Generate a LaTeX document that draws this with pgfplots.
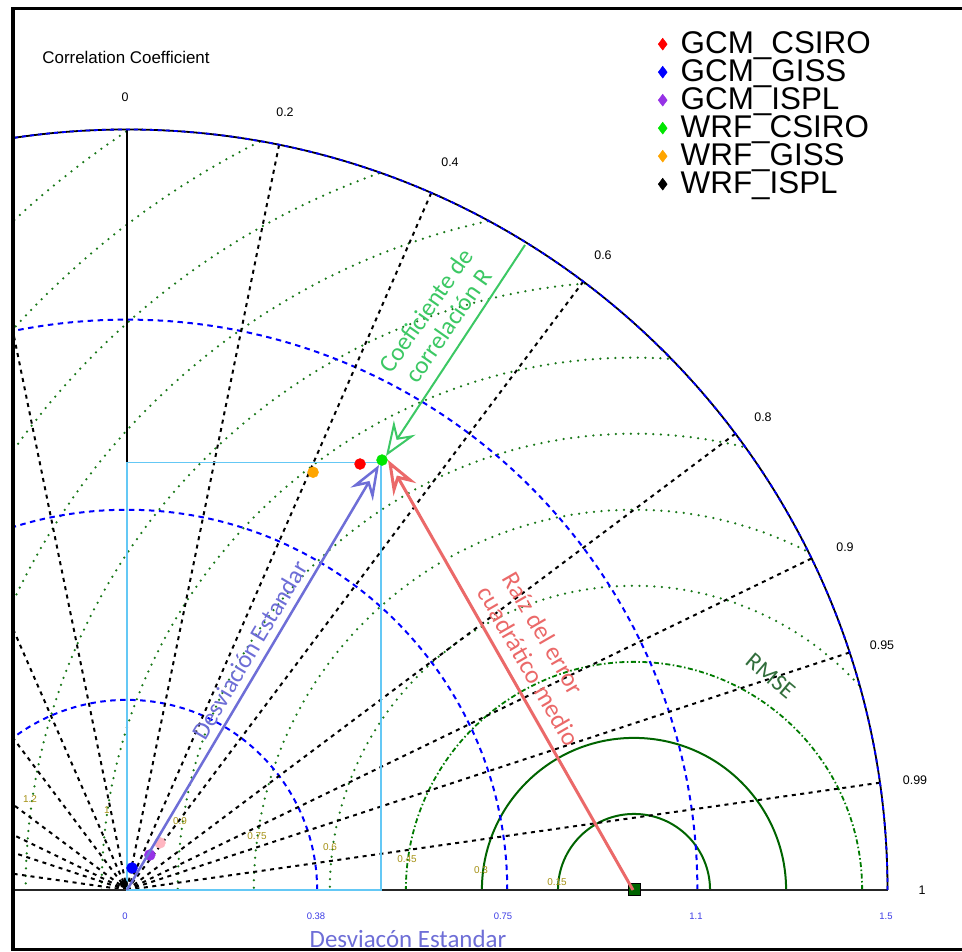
\documentclass[border=0pt]{standalone}
\usepackage{fontspec}
\setmainfont{Liberation Sans}
\newfontfamily\carl{Carlito}
\usepackage{pgfplots}
\pgfplotsset{compat=1.18}
\usetikzlibrary{arrows.meta}
\definecolor{dgreen}{RGB}{0,100,0}
\definecolor{dotgreen}{RGB}{25,120,25}
\definecolor{cyanline}{RGB}{100,200,245}
\definecolor{annogreen}{RGB}{60,200,100}
\definecolor{annored}{RGB}{235,105,105}
\definecolor{annoblue}{RGB}{110,110,215}
\definecolor{rmsegreen}{RGB}{50,110,60}
\definecolor{olivelab}{RGB}{165,145,20}
\definecolor{ticklab}{RGB}{60,60,230}
\definecolor{ptpurple}{RGB}{150,50,230}
\definecolor{ptgreen}{RGB}{0,230,0}
\definecolor{ptorange}{RGB}{255,165,0}
\definecolor{ptpink}{RGB}{255,182,193}
\begin{document}
\begin{tikzpicture}
\fill[white] (0,0) rectangle (962bp,951bp);
% ---------- grid (pixel frame, then data-unit scope) ----------
\begin{scope}[x=1bp,y=-1bp,yshift=951bp]
 \clip (14.5,10.5) rectangle (962,948.5);
 \begin{scope}[shift={(127bp,-890bp)},x=507bp,y=507bp]
  \begin{scope}
   \clip (1.5,0) arc[start angle=0,end angle=180,radius=1.5] -- cycle;
   \foreach \r in {0.6,0.75,0.9,1.05,1.2,1.35,1.5,1.65,1.8,1.95,2.1}
     \draw[dotgreen, line width=2.5bp, line cap=round, dash pattern=on 0bp off 7.5bp] (1,0) circle[radius=\r];
   \draw[dgreen!85!green, line width=1.8bp, dash pattern=on 5bp off 2.5bp on 1.5bp off 2.5bp] (1,0) circle[radius=0.45];
   \draw[dgreen, line width=2bp] (1,0) circle[radius=0.3];
   \draw[dgreen, line width=2bp] (1,0) circle[radius=0.15];
  \end{scope}
  \foreach \s in {0.375,0.75,1.125}
    \draw[blue, line width=2bp, dash pattern=on 5.5bp off 4.5bp] (\s,0) arc[start angle=0,end angle=180,radius=\s];
  \foreach \c in {0.2,0.4,0.6,0.8,0.9,0.95,0.99,-0.2,-0.4,-0.6,-0.8,-0.9,-0.95,-0.99}
    \draw[black, line width=2bp, dash pattern=on 4bp off 4.5bp] (0,0) -- ({acos(\c)}:1.5);
  \draw[black, line width=2bp] (0,0) -- (0,1.5);
  \draw[black!85, line width=2bp] (-0.3,0) -- (1.5,0);
  \draw[cyanline, line width=1.6bp] (0,0) rectangle (0.501,0.843);
  \draw[black, line width=1.8bp] (1.5,0) arc[start angle=0,end angle=180,radius=1.5];
  \draw[blue, line width=1.8bp, dash pattern=on 4bp off 4bp] (1.5,0) arc[start angle=0,end angle=180,radius=1.5];
 \end{scope}
\end{scope}
% ---------- data ----------
\begin{axis}[at={(0,0)}, anchor=south west, scale only axis,
  width=962bp, height=951bp,
  xmin=-0.250493, xmax=1.646943, ymin=-0.120316, ymax=1.755424,
  hide axis, clip=false,
  legend style={at={(axis cs:1.0474,1.6963)}, anchor=north west, draw=none, fill=none,
     font=\fontsize{31.5}{31.5}\selectfont, inner xsep=0pt, inner ysep=0pt,
     nodes={inner sep=0pt, text height=23bp, text depth=5bp},
     column sep=13.5bp, cells={anchor=west}},
  legend image post style={mark=diamond*, mark size=6bp}]
\addplot[only marks, mark=*, mark size=5.5bp, color=ptpink, forget plot] coordinates {(0.065,0.093)};
\addplot[only marks, mark=*, mark size=5.5bp, color=red] coordinates {(0.4596,0.8402)};
\addlegendentry{GCM\_CSIRO}
\addplot[only marks, mark=*, mark size=5.5bp, color=blue] coordinates {(0.0099,0.0434)};
\addlegendentry{GCM\_GISS}
\addplot[only marks, mark=*, mark size=5.5bp, color=ptpurple] coordinates {(0.045,0.069)};
\addlegendentry{GCM\_ISPL}
\addplot[only marks, mark=*, mark size=5.5bp, color=ptgreen] coordinates {(0.503,0.848)};
\addlegendentry{WRF\_CSIRO}
\addplot[only marks, mark=*, mark size=5.5bp, color=ptorange] coordinates {(0.367,0.824)};
\addlegendentry{WRF\_GISS}
\addplot[only marks, mark=*, mark size=4bp, color=black] coordinates {(-0.006,0.012)};
\addlegendentry{WRF\_ISPL}
\addplot[only marks, mark=square*, mark size=6bp, fill=dgreen, draw=black, line width=1bp, forget plot] coordinates {(1.0,0)};
\end{axis}
% ---------- annotations ----------
\begin{scope}[x=1bp,y=-1bp,yshift=951bp]
 \draw[annoblue, line width=2.5bp, -{Stealth[open,length=34bp,width=26bp,inset=12bp]}] (127,890) -- (379,465);
 \draw[annored, line width=3bp, -{Stealth[open,length=34bp,width=26bp,inset=12bp]}] (633,890) -- (388,460);
 \draw[annogreen, line width=2bp, -{Stealth[open,length=34bp,width=26bp,inset=12bp]}] (525,245) -- (386,456);
 \node[annogreen, font=\carl\fontsize{25}{27}\selectfont, rotate=55, align=center] at (437,318) {Coeficiente de\\correlación R};
 \node[annored, font=\carl\fontsize{25.5}{29}\selectfont, rotate=-60, align=left, anchor=west] at (495,578) {Raíz del error\\cuadrático medio};
 \node[annoblue, font=\carl\fontsize{25}{27}\selectfont, rotate=59.3] at (250,650) {Desviación Estandar};
 \node[rmsegreen, font=\carl\fontsize{24}{24}\selectfont, rotate=-40] at (771,676) {RMSE};
 \node[annoblue, font=\carl\fontsize{25}{25}\selectfont, anchor=base] at (408,948) {Desviacón Estandar};
 \node[font=\fontsize{17}{17}\selectfont] at (126,57) {Correlation Coefficient};
 \begin{scope}[every node/.style={font=\fontsize{12.5}{12.5}\selectfont}]
  \node at (125,97) {0};
  \node at (285,112) {0.2};
  \node at (450,162) {0.4};
  \node at (603,255) {0.6};
  \node at (763,417) {0.8};
  \node at (845,547) {0.9};
  \node at (882,645) {0.95};
  \node at (915,780) {0.99};
  \node at (922,890) {1};
 \end{scope}
 \begin{scope}[every node/.style={ticklab, font=\fontsize{9.5}{9.5}\selectfont}]
  \node at (125,916) {0};
  \node at (316,916) {0.38};
  \node at (503,916) {0.75};
  \node at (696,916) {1.1};
  \node at (886,916) {1.5};
 \end{scope}
 \begin{scope}[every node/.style={olivelab, font=\fontsize{10}{10}\selectfont}]
  \node at (557,882) {0.15};
  \node at (481,870) {0.3};
  \node at (407,859) {0.45};
  \node at (330,847) {0.6};
  \node at (257,836) {0.75};
  \node at (180,821) {0.9};
  \node at (107,810) {1};
  \node at (30,799) {1.2};
 \end{scope}
 \fill[black] (11,7) rectangle (962,10.5);
 \fill[black] (11,7) rectangle (14.5,951);
 \fill[black] (11,948.5) rectangle (962,951);
\end{scope}
\end{tikzpicture}
\end{document}
